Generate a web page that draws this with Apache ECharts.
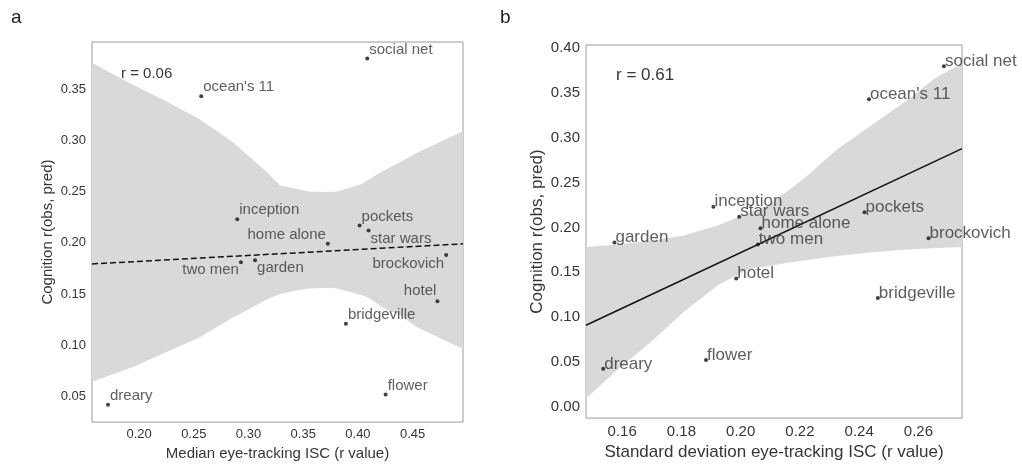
<!DOCTYPE html>
<html>
<head>
<meta charset="utf-8">
<script src="https://cdn.jsdelivr.net/npm/echarts@6/dist/echarts.min.js"></script>
<style>
  html, body { margin: 0; padding: 0; background: #fff; }
  #main { width: 1022px; height: 466px; }
</style>
</head>
<body>
<div id="main"></div>
<script>
  // movie names, same order in both panels
  const movies = ['social net', "ocean's 11", 'inception', 'pockets', 'star wars', 'home alone',
    'brockovich', 'two men', 'garden', 'hotel', 'bridgeville', 'flower', 'dreary']
  // Cognition r(obs, pred)
  const cognition = [0.380, 0.343, 0.223, 0.217, 0.212, 0.199, 0.188, 0.181, 0.183, 0.143, 0.121, 0.052, 0.042]
  // panel a: median eye-tracking ISC
  const medianISC = [0.4085, 0.2568, 0.2897, 0.4015, 0.4097, 0.3725, 0.4806, 0.2931, 0.3060, 0.4726, 0.3890, 0.4253, 0.1716]
  // panel b: standard deviation eye-tracking ISC
  const sdISC = [0.2686, 0.2433, 0.1908, 0.2418, 0.1995, 0.2067, 0.2634, 0.2058, 0.1574, 0.1985, 0.2463, 0.1883, 0.1536]

  // fitted lines (end points)
  const fitA = [[0.157, 0.1794], [0.496, 0.1990]]
  const fitB = [[0.1478, 0.0907], [0.2747, 0.2880]]

  // confidence bands: x, upper, lower
  const bandAx = [0.157, 0.1943, 0.2251, 0.2556, 0.2858, 0.3167, 0.3288, 0.3472, 0.3563, 0.3747, 0.3808, 0.4022, 0.4083, 0.4230, 0.4388, 0.4540, 0.4962]
  const bandAup = [0.3757, 0.3542, 0.3380, 0.3204, 0.2981, 0.2692, 0.2560, 0.2520, 0.2499, 0.2495, 0.2502, 0.2570, 0.2608, 0.2700, 0.2788, 0.2880, 0.3090]
  const bandAlo = [0.0645, 0.0789, 0.0934, 0.1079, 0.1272, 0.1446, 0.1500, 0.1543, 0.1555, 0.1562, 0.1555, 0.1494, 0.1470, 0.1369, 0.1290, 0.1176, 0.0963]
  const bandBx = [0.1478, 0.1584, 0.1697, 0.1809, 0.1922, 0.1989, 0.2034, 0.2099, 0.2148, 0.2212, 0.2325, 0.2437, 0.2549, 0.2662, 0.2747]
  const bandBup = [0.178, 0.181, 0.185, 0.191, 0.202, 0.211, 0.217, 0.226, 0.238, 0.254, 0.287, 0.313, 0.339, 0.368, 0.383]
  const bandBlo = [0.009, 0.041, 0.072, 0.106, 0.135, 0.147, 0.154, 0.157, 0.160, 0.163, 0.168, 0.172, 0.175, 0.177, 0.178]

  // tick labels
  const ticksAx = [0.20, 0.25, 0.30, 0.35, 0.40, 0.45]
  const ticksAy = [0.05, 0.10, 0.15, 0.20, 0.25, 0.30, 0.35]
  const ticksBx = [0.16, 0.18, 0.20, 0.22, 0.24, 0.26]
  const ticksBy = [0.00, 0.05, 0.10, 0.15, 0.20, 0.25, 0.30, 0.35, 0.40]

  // label placement for panel a (align, dx, dy)
  const labelPlaceA = {
    'home alone': ['right', -2, -9],
    'brockovich': ['right', -2, 9],
    'two men': ['right', -2, 8],
    'hotel': ['right', -1, -10],
    'star wars': ['left', 2, 8],
    'garden': ['left', 2, 8]
  }

  const FONT = '"Liberation Sans", Arial, sans-serif'
  const TXT = '#363636'

  const chart = echarts.init(document.getElementById('main'))

  function bandSeries (xs, up, lo, xi, yi) {
    return {
      type: 'custom',
      xAxisIndex: xi,
      yAxisIndex: yi,
      silent: true,
      clip: true,
      z: 1,
      data: [0],
      renderItem: function (params, api) {
        const pts = []
        for (let i = 0; i < xs.length; i++) pts.push(api.coord([xs[i], up[i]]))
        for (let i = xs.length - 1; i >= 0; i--) pts.push(api.coord([xs[i], lo[i]]))
        return { type: 'polygon', shape: { points: pts }, style: { fill: '#d9d9d9' } }
      }
    }
  }

  const pointsA = movies.map((m, i) => {
    const p = labelPlaceA[m] || ['left', 2, -9]
    return { name: m, value: [medianISC[i], cognition[i]], label: { align: p[0], offset: [p[1], p[2]] } }
  })
  const pointsB = movies.map((m, i) => {
    return { name: m, value: [sdISC[i], cognition[i]], label: { align: 'left', offset: [1, -5] } }
  })

  function makeAxis (gi, min, max, ticks, name, fs, gap) {
    return {
      type: 'value', gridIndex: gi, min: min, max: max,
      axisLine: { show: false }, axisTick: { show: false }, splitLine: { show: false },
      axisLabel: { customValues: ticks, formatter: v => v.toFixed(2), color: TXT, fontSize: fs - 2, fontFamily: FONT, margin: 6 },
      name: name, nameLocation: 'middle', nameGap: gap,
      nameTextStyle: { color: TXT, fontSize: fs, fontFamily: FONT }
    }
  }

  const option = {
    animation: false,
    backgroundColor: '#fff',
    textStyle: { fontFamily: FONT },
    grid: [
      { left: 92, top: 42, width: 371, height: 384, show: true, borderColor: '#9a9a9a', borderWidth: 1, backgroundColor: 'transparent' },
      { left: 586, top: 45, width: 376, height: 375, show: true, borderColor: '#9a9a9a', borderWidth: 1, backgroundColor: 'transparent' }
    ],
    xAxis: [
      makeAxis(0, 0.157, 0.496, ticksAx, 'Median eye-tracking ISC (r value)', 15, 20),
      makeAxis(1, 0.1478, 0.2747, ticksBx, 'Standard deviation eye-tracking ISC (r value)', 17, 25)
    ],
    yAxis: [
      makeAxis(0, 0.025, 0.396, ticksAy, 'Cognition r(obs, pred)', 15, 37),
      makeAxis(1, -0.013, 0.4037, ticksBy, 'Cognition r(obs, pred)', 17, 40)
    ],
    graphic: [
      { type: 'text', left: 11, top: 8, style: { text: 'a', fontSize: 19, fill: '#222', fontFamily: FONT } },
      { type: 'text', left: 500, top: 8, style: { text: 'b', fontSize: 19, fill: '#222', fontFamily: FONT } },
      { type: 'text', left: 121, top: 66, style: { text: 'r = 0.06', fontSize: 15, fill: TXT, fontFamily: FONT } },
      { type: 'text', left: 616, top: 67, style: { text: 'r = 0.61', fontSize: 17, fill: TXT, fontFamily: FONT } }
    ],
    series: [
      bandSeries(bandAx, bandAup, bandAlo, 0, 0),
      bandSeries(bandBx, bandBup, bandBlo, 1, 1),
      {
        type: 'line', xAxisIndex: 0, yAxisIndex: 0, data: fitA, showSymbol: false, silent: true, z: 2,
        lineStyle: { color: '#111', width: 1.5, type: [6, 3] }
      },
      {
        type: 'line', xAxisIndex: 1, yAxisIndex: 1, data: fitB, showSymbol: false, silent: true, z: 2,
        lineStyle: { color: '#111', width: 1.5 }
      },
      {
        type: 'scatter', xAxisIndex: 0, yAxisIndex: 0, data: pointsA, symbolSize: 4, z: 3,
        itemStyle: { color: '#111' },
        label: { show: true, position: 'inside', formatter: '{b}', verticalAlign: 'middle', color: TXT, fontSize: 15, fontFamily: FONT }
      },
      {
        type: 'scatter', xAxisIndex: 1, yAxisIndex: 1, data: pointsB, symbolSize: 4, z: 3,
        itemStyle: { color: '#111' },
        label: { show: true, position: 'inside', formatter: '{b}', verticalAlign: 'middle', color: TXT, fontSize: 17, fontFamily: FONT }
      }
    ]
  }
  chart.setOption(option)
</script>
</body>
</html>
